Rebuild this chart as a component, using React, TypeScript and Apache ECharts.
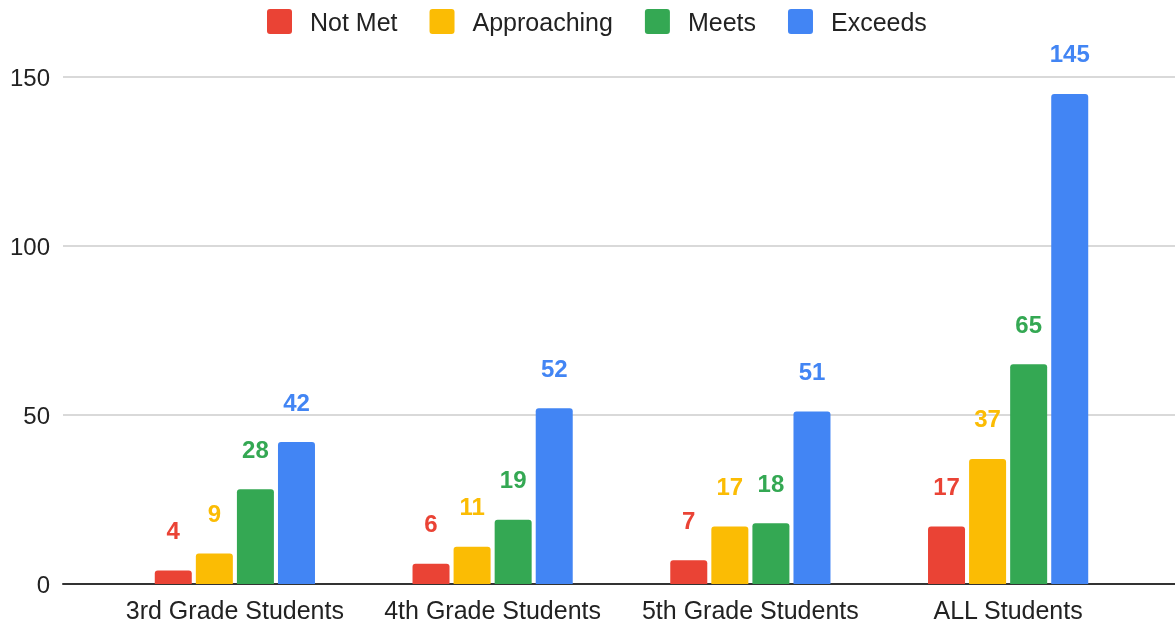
import React, { useEffect, useRef } from "react";
import * as echarts from "echarts";

const categories = ["3rd Grade Students", "4th Grade Students", "5th Grade Students", "ALL Students"];
const seriesNames = ["Not Met", "Approaching", "Meets", "Exceeds"];
const notMet = [4, 6, 7, 17];
const approaching = [9, 11, 17, 37];
const meets = [28, 19, 18, 65];
const exceeds = [42, 52, 51, 145];
const colors = ["#EA4335", "#FBBC04", "#34A853", "#4285F4"];
const yTicks = [0, 50, 100, 150];

export default function App() {
  const ref = useRef<HTMLDivElement>(null);
  useEffect(() => {
    if (!ref.current) return;
    const chart = echarts.init(ref.current, null, { renderer: "svg" });
    const values = [notMet, approaching, meets, exceeds];
    const font = "'Liberation Sans', Arial, sans-serif";
    const icon = "path://M3,0 H22 Q25,0 25,3 V22 Q25,25 22,25 H3 Q0,25 0,22 V3 Q0,0 3,0 Z";
    chart.setOption({
      animation: false,
      textStyle: { fontFamily: font },
      legend: {
        top: 4,
        left: 262,
        itemWidth: 25,
        itemHeight: 25,
        itemGap: 32,
        icon,
        textStyle: { fontSize: 25, color: "#222", fontFamily: font, padding: [0, 0, 0, 13] },
        data: seriesNames,
      },
      grid: [
        { left: 63, right: 0, top: 77, bottom: 40, containLabel: false },
        { left: 106, right: 38, top: 77, bottom: 40, containLabel: false },
      ],
      xAxis: [
        { type: "category", gridIndex: 0, data: [""], show: true, axisLine: { lineStyle: { color: "#333", width: 2 } }, axisTick: { show: false }, axisLabel: { show: false } },
        {
          type: "category",
          gridIndex: 1,
          data: categories,
          axisLine: { show: false },
          axisTick: { show: false },
          axisLabel: { fontSize: 25, color: "#222", margin: 13, fontFamily: font, interval: 0 },
        },
      ],
      yAxis: [
        {
          type: "value",
          gridIndex: 0,
          min: yTicks[0],
          max: yTicks[yTicks.length - 1],
          interval: 50,
          axisLine: { show: false },
          axisTick: { show: false },
          axisLabel: { fontSize: 24, color: "#222", margin: 13, fontFamily: font },
          splitLine: { lineStyle: { color: "#cccccc", width: 1.5 } },
        },
        { type: "value", gridIndex: 1, min: 0, max: 150, interval: 50, show: false, splitLine: { show: false } },
      ],
      series: seriesNames.map((name, i) => ({
        name,
        type: "bar",
        xAxisIndex: 1,
        yAxisIndex: 1,
        data: values[i],
        barWidth: 37,
        barGap: "11%",
        itemStyle: { color: colors[i], borderRadius: [3, 3, 0, 0] },
        label: {
          show: true,
          position: "top",
          distance: 28,
          fontSize: 24,
          fontWeight: "bold",
          color: colors[i],
          fontFamily: font,
        },
      })),
    });
    return () => chart.dispose();
  }, []);
  return <div ref={ref} style={{ position: "fixed", left: 0, top: 0, width: 1175, height: 624 }} />;
}
